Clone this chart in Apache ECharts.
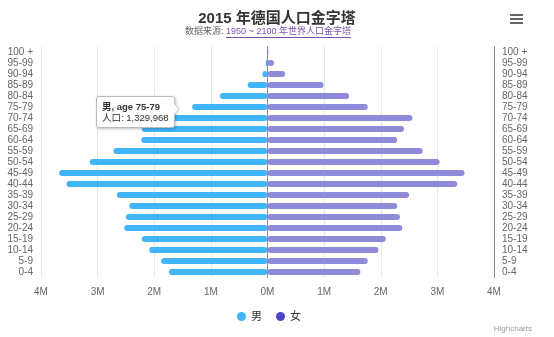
<!DOCTYPE html>
<html lang="zh">
<head>
<meta charset="UTF-8">
<title>2015 年德国人口金字塔</title>
<script src="https://cdn.jsdelivr.net/npm/echarts@6/dist/echarts.min.js"></script>
<style>
  html, body { margin: 0; padding: 0; background: #fff; }
  #chart { width: 554px; height: 337px; }
</style>
</head>
<body>
<div id="chart"></div>
<script>
// 年龄段（从下到上）
const ageGroups = ['0-4', '5-9', '10-14', '15-19', '20-24', '25-29', '30-34', '35-39', '40-44', '45-49',
  '50-54', '55-59', '60-64', '65-69', '70-74', '75-79', '80-84', '85-89', '90-94', '95-99', '100 +'];

// 男（负值，画在左边）
const maleValues = [-1740000, -1880000, -2090000, -2220000, -2530000, -2500000, -2440000, -2660000, -3550000, -3680000,
  -3140000, -2720000, -2230000, -2220000, -2250000, -1329968, -840000, -350000, -90000, -30000, -4000];

// 女
const femaleValues = [1640000, 1770000, 1960000, 2090000, 2380000, 2340000, 2290000, 2500000, 3350000, 3480000,
  3040000, 2740000, 2290000, 2410000, 2560000, 1770000, 1440000, 990000, 310000, 115000, 15000];

const xTicks = { min: -4000000, max: 4000000, step: 1000000 };

const maleColor = '#40b5f9';
const femaleBar = '#8f8ad9';
const femaleLegend = '#4e45c8';
const baseFont = 'Liberation Sans, Noto Sans CJK SC, sans-serif';

// 副标题：两段文字 + 链接下划线，宽度用 canvas 量
const subPrefix = '数据来源: ';
const subLink = '1950 ~ 2100 年世界人口金字塔';
const subSize = 9;
const ctx = document.createElement('canvas').getContext('2d');
ctx.font = subSize + 'px ' + baseFont;
const wPrefix = ctx.measureText(subPrefix).width;
const wLink = ctx.measureText(subLink).width;
const subX = 268 - (wPrefix + wLink) / 2;
const subY = 32;

const chart = echarts.init(document.getElementById('chart'));

const yAxisCommon = {
  type: 'category',
  data: ageGroups,
  axisLine: { show: true, lineStyle: { color: '#8c8c8c', width: 1 } },
  axisTick: { show: false },
  splitLine: { show: false }
};

const option = {
  animation: false,
  textStyle: { fontFamily: baseFont },
  title: {
    text: '2015 年德国人口金字塔',
    left: 'center',
    top: 6,
    textStyle: { fontSize: 15, fontWeight: 'bold', color: '#333', fontFamily: baseFont }
  },
  legend: {
    bottom: 10,
    left: 232,
    icon: 'circle',
    itemWidth: 9,
    itemHeight: 9,
    itemGap: 14,
    textStyle: { color: '#333', fontSize: 11, fontFamily: baseFont },
    data: [
      { name: '男', itemStyle: { color: maleColor } },
      { name: '女', itemStyle: { color: femaleLegend } }
    ]
  },
  tooltip: {
    trigger: 'item',
    position: function () { return [96, 96]; },
    backgroundColor: 'rgba(255,255,255,0.97)',
    borderColor: '#bbb',
    borderWidth: 1,
    padding: [4, 5],
    extraCssText: 'box-shadow: 1px 1px 3px rgba(0,0,0,0.25); border-radius: 3px; overflow: visible;',
    textStyle: { color: '#333', fontSize: 9.5, fontFamily: baseFont, lineHeight: 11 },
    formatter: function (p) {
      const arrow = '<span style="position:absolute;right:-6px;top:6px;width:0;height:0;' +
        'border-top:6px solid transparent;border-bottom:6px solid transparent;border-left:6px solid #bbb;"></span>' +
        '<span style="position:absolute;right:-5px;top:6px;width:0;height:0;' +
        'border-top:6px solid transparent;border-bottom:6px solid transparent;border-left:6px solid #fff;"></span>';
      return arrow + '<div style="line-height:11px;font-size:9.5px"><b>' + p.seriesName + ', age ' + p.name +
        '</b><br/>人口: ' + Math.abs(p.value).toLocaleString('en-US') + '</div>';
    }
  },
  grid: { left: 41, right: 60, top: 46.5, bottom: 59.5, containLabel: false },
  xAxis: {
    type: 'value',
    min: xTicks.min,
    max: xTicks.max,
    interval: xTicks.step,
    axisLine: { show: false },
    axisTick: { show: false },
    axisLabel: {
      color: '#666',
      fontSize: 10,
      margin: 10,
      fontFamily: baseFont,
      formatter: function (v) { return Math.abs(v / 1000000) + 'M'; }
    },
    splitLine: { show: true, lineStyle: { color: '#e6e6e6', width: 1 } }
  },
  yAxis: [
    Object.assign({}, yAxisCommon, {
      position: 'left',
      axisLabel: { color: '#666', fontSize: 10, margin: 8, interval: 0, fontFamily: baseFont }
    }),
    Object.assign({}, yAxisCommon, {
      position: 'right',
      axisLabel: { color: '#666', fontSize: 10, margin: 8, interval: 0, align: 'left', fontFamily: baseFont }
    })
  ],
  graphic: [
    // 副标题
    { type: 'text', x: subX, y: subY, style: { text: subPrefix, fill: '#666', font: subSize + 'px ' + baseFont, textVerticalAlign: 'middle' } },
    { type: 'text', x: subX + wPrefix, y: subY, style: { text: subLink, fill: '#7b4fb0', font: subSize + 'px ' + baseFont, textVerticalAlign: 'middle' } },
    { type: 'line', shape: { x1: subX + wPrefix, y1: subY + 5.5, x2: subX + wPrefix + wLink, y2: subY + 5.5 }, style: { stroke: '#7b4fb0', lineWidth: 1 } },
    // 菜单按钮
    { type: 'rect', shape: { x: 510, y: 14, width: 13, height: 2 }, style: { fill: '#666' } },
    { type: 'rect', shape: { x: 510, y: 18, width: 13, height: 2 }, style: { fill: '#666' } },
    { type: 'rect', shape: { x: 510, y: 22, width: 13, height: 2 }, style: { fill: '#666' } },
    // credits
    { type: 'text', right: 22, bottom: 4, style: { text: 'Highcharts', fill: '#999', fontSize: 8, fontFamily: 'Liberation Sans' } }
  ],
  series: [
    {
      name: '男',
      type: 'bar',
      yAxisIndex: 0,
      data: maleValues,
      barWidth: 6,
      barGap: '-100%',
      itemStyle: { color: maleColor, borderRadius: 3 }
    },
    {
      name: '女',
      type: 'bar',
      yAxisIndex: 0,
      data: femaleValues,
      barWidth: 6,
      barGap: '-100%',
      itemStyle: { color: femaleBar, borderRadius: 3 }
    }
  ]
};

chart.setOption(option);
chart.dispatchAction({ type: 'showTip', seriesIndex: 0, dataIndex: ageGroups.indexOf('75-79') });
</script>
</body>
</html>
